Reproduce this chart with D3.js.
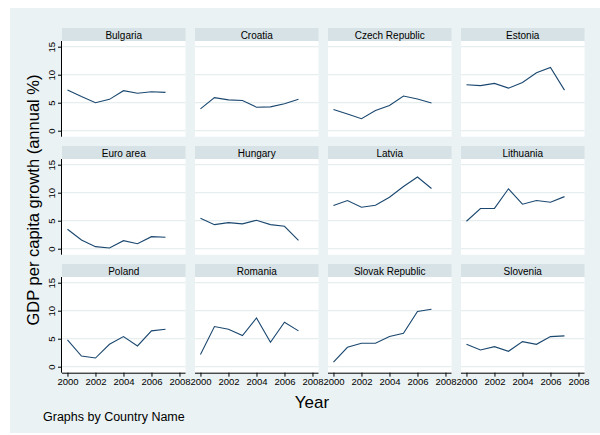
<!DOCTYPE html>
<html>
<head>
<meta charset="utf-8">
<script src="https://cdnjs.cloudflare.com/ajax/libs/d3/7.8.5/d3.min.js"></script>
<style>
  body { margin: 0; background: #fff; }
  text { font-family: "Liberation Sans", Arial, sans-serif; fill: #000; }
</style>
</head>
<body>
<svg id="chart" width="600" height="435"></svg>
<script>
//data
var years = [2000, 2001, 2002, 2003, 2004, 2005, 2006, 2007];
var countries = ["Bulgaria", "Croatia", "Czech Republic", "Estonia",
                 "Euro area", "Hungary", "Latvia", "Lithuania",
                 "Poland", "Romania", "Slovak Republic", "Slovenia"];
var bulgaria  = [7.27, 6.1, 5.0, 5.6, 7.15, 6.7, 6.95, 6.85];
var croatia   = [3.9, 5.9, 5.5, 5.4, 4.2, 4.25, 4.8, 5.6];
var czech     = [3.8, 3.0, 2.15, 3.6, 4.5, 6.2, 5.65, 4.95];
var estonia   = [8.2, 8.05, 8.45, 7.6, 8.6, 10.35, 11.3, 7.25];
var euroArea  = [3.48, 1.56, 0.37, 0.13, 1.43, 0.9, 2.15, 2.04];
var hungary   = [5.45, 4.3, 4.66, 4.43, 5.08, 4.3, 4.0, 1.5];
var latvia    = [7.7, 8.6, 7.4, 7.77, 9.2, 11.1, 12.8, 10.75];
var lithuania = [4.9, 7.17, 7.2, 10.7, 7.95, 8.6, 8.3, 9.3];
var poland    = [4.78, 1.9, 1.55, 4.0, 5.38, 3.7, 6.4, 6.7];
var romania   = [2.2, 7.17, 6.7, 5.56, 8.7, 4.36, 7.95, 6.4];
var slovakia  = [0.83, 3.46, 4.18, 4.18, 5.38, 5.97, 9.86, 10.27];
var slovenia  = [4.0, 2.99, 3.58, 2.75, 4.48, 4.0, 5.38, 5.5];
var seriesList = [bulgaria, croatia, czech, estonia, euroArea, hungary,
                  latvia, lithuania, poland, romania, slovakia, slovenia];
var yTicks = [0, 5, 10, 15];
var xTicks = [2000, 2002, 2004, 2006, 2008];

var svg = d3.select("#chart");

//outer graph region
svg.append("rect").attr("x", 10).attr("y", 8).attr("width", 590).attr("height", 425)
    .attr("fill", "#eaf2f3");

var colLeft = [62, 195, 328, 461],
    rowTop = [28, 146, 264],
    panelW = 123.5,
    stripH = 13.7,
    plotTop = 14.5,
    plotBottom = 108.7;

var x = d3.scaleLinear().domain([1999.61, 2008.43]).range([0, panelW]);
var y = d3.scaleLinear().domain([-1.07, 15.75]).range([plotBottom, plotTop]);

var line = d3.line()
    .x(function(d, i) { return x(years[i]); })
    .y(function(d) { return y(d); });

countries.forEach(function(name, k) {
  var col = k % 4, row = Math.floor(k / 4);
  var g = svg.append("g")
      .attr("transform", "translate(" + colLeft[col] + "," + rowTop[row] + ")");

  //strip with country name
  g.append("rect").attr("x", 0).attr("y", 0).attr("width", panelW).attr("height", stripH)
      .attr("fill", "#d6e2e5");
  g.append("text").attr("x", panelW / 2).attr("y", 10.5)
      .attr("text-anchor", "middle").attr("font-size", "10px").text(name);

  //plot region
  g.append("rect").attr("x", 0).attr("y", plotTop - 1.5).attr("width", panelW)
      .attr("height", plotBottom - plotTop + 1.5).attr("fill", "#fff");

  //gridlines
  g.selectAll(".grid").data(yTicks).enter().append("line")
      .attr("x1", 0).attr("x2", panelW)
      .attr("y1", function(d) { return y(d); }).attr("y2", function(d) { return y(d); })
      .attr("stroke", "#e6eef0").attr("stroke-width", 1.2);

  //the series
  g.append("path").datum(seriesList[k])
      .attr("d", line).attr("fill", "none")
      .attr("stroke", "#1a476f").attr("stroke-width", 1.1);

  //y axis on first column
  if (col == 0) {
    var ya = g.append("g").call(d3.axisLeft(y).tickValues(yTicks).tickSize(4).tickPadding(3));
    ya.select(".domain").attr("d", "M-0.5," + (plotTop - 1.5) + "V" + plotBottom)
        .attr("stroke", "#000");
    ya.selectAll("text").attr("font-size", "9.5px")
        .attr("font-family", "Liberation Sans, Arial, sans-serif")
        .attr("x", -10).attr("dy", "0.32em").attr("text-anchor", "middle")
        .attr("transform", "rotate(-90,-10,0)");
  }
  //x axis on bottom row
  if (row == 2) {
    var xa = g.append("g").attr("transform", "translate(0," + plotBottom + ")")
        .call(d3.axisBottom(x).tickValues(xTicks).tickFormat(d3.format("d")).tickSize(4).tickPadding(2));
    xa.select(".domain").attr("d", "M0,0.5H" + panelW).attr("stroke", "#000");
    xa.selectAll("text").attr("font-size", "9.5px")
        .attr("font-family", "Liberation Sans, Arial, sans-serif");
  }
});

//titles
svg.append("text").attr("transform", "translate(39,200) rotate(-90)")
    .attr("text-anchor", "middle").attr("font-size", "16.5px")
    .text("GDP per capita growth (annual %)");
svg.append("text").attr("x", 312).attr("y", 408)
    .attr("text-anchor", "middle").attr("font-size", "17px").text("Year");
svg.append("text").attr("x", 43).attr("y", 421)
    .attr("font-size", "12.5px").text("Graphs by Country Name");
</script>
</body>
</html>
